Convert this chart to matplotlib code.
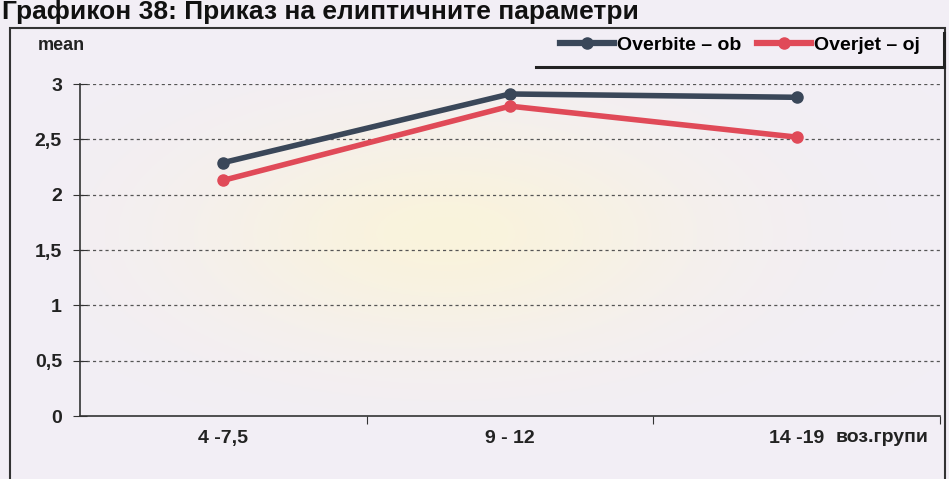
import numpy as np
import matplotlib.pyplot as plt
from matplotlib.patches import Rectangle
from matplotlib.lines import Line2D

# data
groups = ["4 -7,5", "9 - 12", "14 -19"]
overbite = [2.29, 2.91, 2.88]
overjet = [2.13, 2.80, 2.52]
yticks = [0, 0.5, 1, 1.5, 2, 2.5, 3]
ytick_labels = ["0", "0,5", "1", "1,5", "2", "2,5", "3"]

plt.rcParams['font.family'] = ['Liberation Sans', 'DejaVu Sans']
plt.rcParams['font.weight'] = 'bold'

bg = "#f2eef5"
c_ob = "#3a4759"
c_oj = "#e04a58"

fig = plt.figure(figsize=[9.49, 4.79], dpi=100, facecolor=bg)
ax = fig.add_axes([0.0843, 0.1315, 0.9062, 0.6931])
ax.set_facecolor(bg)

# soft yellow glow behind the plot area
gx, gy = np.meshgrid(np.linspace(-1, 1, 300), np.linspace(-1, 1, 150))
glow = np.exp(-((gx + 0.15) ** 2 / 0.35 + (gy + 0.1) ** 2 / 0.5))
rgba = np.zeros((150, 300, 4))
rgba[..., 0] = 1.0
rgba[..., 1] = 0.97
rgba[..., 2] = 0.80
rgba[..., 3] = glow * 0.6
ax.imshow(rgba, extent=[-0.5, 2.5, 0, 3.0], aspect='auto', zorder=0)

x = np.arange(len(groups))
ax.plot(x, overbite, color=c_ob, lw=4, marker='o', ms=8, zorder=3,
        solid_capstyle='round')
ax.plot(x, overjet, color=c_oj, lw=4, marker='o', ms=8, zorder=3,
        solid_capstyle='round')

ax.set_xlim(-0.5, 2.5)
ax.set_ylim(0, 3)
ax.set_yticks(yticks)
ax.set_yticklabels(ytick_labels, fontsize=14, color="#222222")
for v in yticks[1:]:
    ax.axhline(v, color="#555555", lw=0.9, ls=(0, (2.5, 2.5)), zorder=1)

ax.set_xticks([0.5, 1.5, 2.5])
ax.set_xticklabels([])
ax.tick_params(axis='x', direction='out', length=6, color="#333333")
ax.tick_params(axis='y', direction='inout', length=10, color="#333333", pad=8)
for i, g in enumerate(groups):
    ax.text(i, -0.2, g, ha='center', va='center', fontsize=14, color="#222222",
            transform=ax.transData)

ax.spines['top'].set_visible(False)
ax.spines['right'].set_visible(False)
for s in ['left', 'bottom']:
    ax.spines[s].set_color("#333333")
    ax.spines[s].set_linewidth(1.2)

fig.text(38 / 949, 1 - 45 / 479, "mean", fontsize=13, color="#222222",
         va='center')
fig.text(882 / 949, 1 - 437 / 479, "воз.групи", fontsize=14, color="#222222",
         va='center', ha='center')

# legend
handles = [Line2D([], [], color=c_ob, lw=4.5, marker='o', ms=8),
           Line2D([], [], color=c_oj, lw=4.5, marker='o', ms=8)]
leg = fig.legend(handles, ["Overbite – ob", "Overjet – oj"], ncol=2,
                 loc='upper right', bbox_to_anchor=(0.988, 0.96), frameon=False,
                 fontsize=14, handlelength=2.8, columnspacing=0.8,
                 handletextpad=0.15)
fig.add_artist(Line2D([536 / 949, 944 / 949], [1 - 67 / 479, 1 - 67 / 479],
                      color="#222222", lw=2.2, transform=fig.transFigure))
fig.add_artist(Line2D([944 / 949, 944 / 949], [1 - 67 / 479, 1 - 33 / 479],
                      color="#222222", lw=2.2, transform=fig.transFigure))

# outer frame of the chart
fig.add_artist(Rectangle((10 / 949, -0.05), 935 / 949, 1.05 - 28 / 479,
                         transform=fig.transFigure, fill=False,
                         edgecolor="#333333", lw=1.5))

# title at the top edge of the scan
fig.text(0.002, 1 - 12 / 479, "Графикон 38: Приказ на елиптичните параметри",
         fontsize=19, color="#111111", va='center', ha='left')

fig.savefig("out.png", dpi=100, facecolor=bg)
